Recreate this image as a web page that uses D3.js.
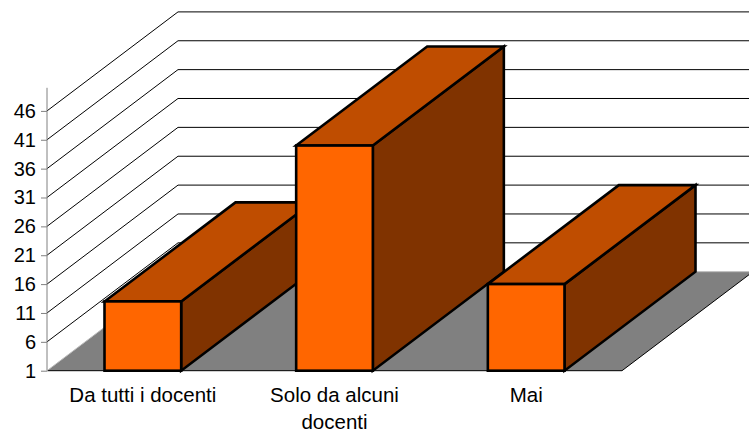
<!DOCTYPE html>
<html><head><meta charset="utf-8">
<script src="https://cdn.jsdelivr.net/npm/d3@7/dist/d3.min.js"></script>
<style>
html,body{margin:0;padding:0;background:#fff;overflow:hidden}
svg{display:block}
text{font-family:"Liberation Sans",Arial,sans-serif;font-size:20.5px;fill:#000}
</style></head><body>
<svg id="chart" width="749" height="433"></svg>
<script>
const categories = [["Da tutti i docenti"], ["Solo da alcuni", "docenti"], ["Mai"]];
const values = [13, 40, 16];
const tickValues = [1, 6, 11, 16, 21, 26, 31, 36, 41, 46];
const colors = {front: "#FF6600", top: "#BF4D00", side: "#803300", floor: "#808080"};

const svg = d3.select("#chart");
const depthX = 131, depthY = -99;
const x = d3.scaleBand().domain(d3.range(categories.length)).range([47, 622]).paddingInner(0.6).paddingOuter(0.3);
const y = d3.scaleLinear().domain([1, 50]).range([370.7, 87.8]);
const line = d3.line();
const y0 = y(1), x0 = x.range()[0], x1 = x.range()[1];

// floor
svg.append("path")
  .attr("d", line([[x0, y0], [x0 + depthX, y0 + depthY], [x1 + depthX, y0 + depthY], [x1, y0]]) + "Z")
  .attr("fill", colors.floor).attr("stroke", "none");
svg.append("path").attr("d", line([[x0, y0], [x1, y0], [x1 + depthX, y0 + depthY]]))
  .attr("fill", "none").attr("stroke", "#000").attr("stroke-width", 1);
svg.append("path").attr("d", line([[x0, y0], [x0 + depthX, y0 + depthY], [x1 + depthX, y0 + depthY]]))
  .attr("fill", "none").attr("stroke", "#bbb").attr("stroke-width", 1);

// gridlines on the walls
svg.append("g").selectAll("path").data(tickValues.slice(1)).join("path")
  .attr("d", v => line([[x0, y(v)], [x0 + depthX, y(v) + depthY], [760, y(v) + depthY]]))
  .attr("fill", "none").attr("stroke", "#000").attr("stroke-width", 1);

// value axis
const axis = d3.axisLeft(y).tickValues(tickValues).tickSize(6).tickPadding(5).tickFormat(d3.format("d"));
const ax = svg.append("g").attr("transform", `translate(${x0},0)`).call(axis);
ax.selectAll("path,line").attr("stroke", "#808080").attr("stroke-width", 1);
ax.select(".domain").attr("d", line([[0, y.range()[1]], [0, y0]]));
ax.selectAll("text").style("font-size", "20px").style("font-family", '"Liberation Sans",Arial,sans-serif').attr("fill", "#000");

// bars
const bars = svg.append("g").selectAll("g").data(values).join("g")
  .attr("stroke", "#000").attr("stroke-width", 2.6).attr("stroke-linejoin", "miter");
bars.append("path").attr("fill", colors.side).attr("d", (d, i) => {
  const r = x(i) + x.bandwidth();
  return line([[r, y(d)], [r + depthX, y(d) + depthY], [r + depthX, y0 + depthY], [r, y0]]) + "Z";
});
bars.append("path").attr("fill", colors.top).attr("d", (d, i) => {
  const l = x(i), r = l + x.bandwidth();
  return line([[l, y(d)], [l + depthX, y(d) + depthY], [r + depthX, y(d) + depthY], [r, y(d)]]) + "Z";
});
bars.append("rect").attr("fill", colors.front)
  .attr("x", (d, i) => x(i)).attr("width", x.bandwidth())
  .attr("y", d => y(d)).attr("height", d => y0 - y(d));

// category labels
svg.append("g").selectAll("text").data(categories).join("text")
  .attr("text-anchor", "middle")
  .attr("transform", (d, i) => `translate(${x(i) + x.bandwidth() / 2},402)`)
  .selectAll("tspan").data(d => d).join("tspan")
  .attr("x", 0).attr("y", (d, i) => i * 27).text(d => d);
</script>
</body></html>
